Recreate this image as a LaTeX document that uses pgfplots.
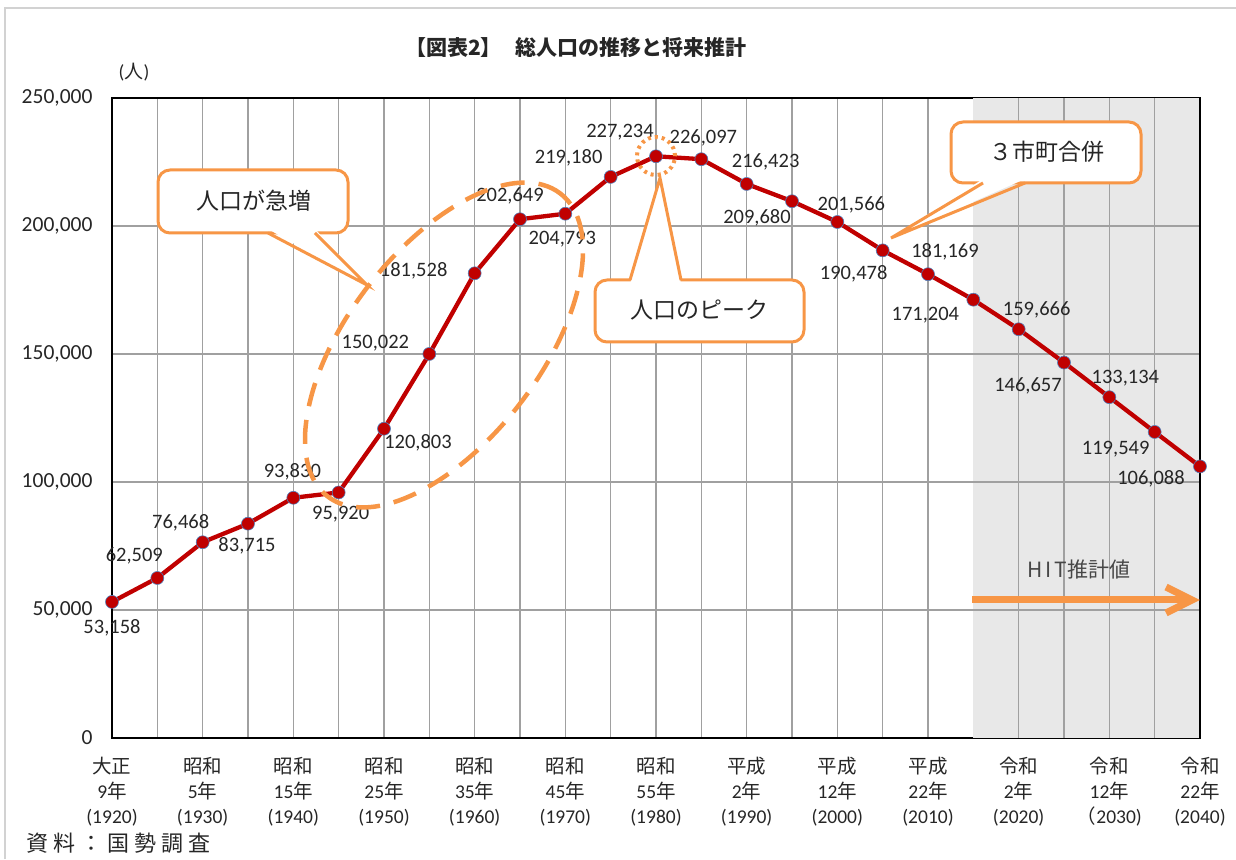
\documentclass[border=0pt]{standalone}
\usepackage{pgfplots}
\pgfplotsset{compat=1.18}
\usepackage{fontspec}
\setmainfont{Carlito}
\newfontfamily\jp{Noto Sans CJK JP}
\definecolor{dred}{RGB}{192,0,0}
\definecolor{org}{RGB}{247,150,70}
\definecolor{mblue}{RGB}{79,129,189}
\definecolor{shade}{RGB}{232,232,232}
\definecolor{gridc}{RGB}{160,160,160}
\definecolor{txt}{RGB}{38,38,38}
\definecolor{frame}{RGB}{210,210,210}
\newcommand{\tl}[3]{{\jp #1}\\#2{\jp 年}\\#3}
\newcommand{\dl}[5]{\node[font=\fontsize{20.5}{22}\selectfont, text=txt, xshift=#3pt, yshift=#4pt] at (axis cs:#1,#2) {#5};}
\begin{document}
\begin{tikzpicture}
\useasboundingbox (0,0) rectangle (1236pt,859pt);
\draw[frame, line width=2pt] (5pt,0pt) -- (5pt,851pt) -- (1236pt,851pt);
\begin{axis}[
  at={(112pt,121pt)}, anchor=south west,
  scale only axis, width=1088pt, height=640pt,
  xmin=1920, xmax=2040, ymin=0, ymax=250000,
  clip=false,
  xtick={1920,1930,...,2040},
  minor xtick={1925,1935,...,2035},
  ytick={0,50000,...,250000},
  grid=both,
  major grid style={draw=gridc, line width=1.4pt},
  minor grid style={draw=gridc, line width=1.4pt},
  axis line style={black, line width=1.8pt},
  major tick length=0pt, minor tick length=0pt,
  scaled y ticks=false,
  xticklabels={
    {\tl{大正}{9}{(1920)}},
    {\tl{昭和}{5}{(1930)}},
    {\tl{昭和}{15}{(1940)}},
    {\tl{昭和}{25}{(1950)}},
    {\tl{昭和}{35}{(1960)}},
    {\tl{昭和}{45}{(1970)}},
    {\tl{昭和}{55}{(1980)}},
    {\tl{平成}{2}{(1990)}},
    {\tl{平成}{12}{(2000)}},
    {\tl{平成}{22}{(2010)}},
    {\tl{令和}{2}{(2020)}},
    {\tl{令和}{12}{{\jp （}2030)}},
    {\tl{令和}{22}{(2040)}}},
  xticklabel style={align=center, font=\fontsize{19.5}{25}\selectfont, text=txt, yshift=-16pt},
  yticklabel style={font=\fontsize{21.5}{22}\selectfont, text=txt, xshift=-16pt,
    /pgf/number format/fixed, /pgf/number format/precision=0,
    /pgf/number format/1000 sep={,},
    /pgf/number format/assume math mode=true},
]
\addplot[draw=none, fill=shade, forget plot] coordinates {(2015,0) (2015,250000) (2040,250000) (2040,0)} -- cycle;
% grid lines redrawn over the shaded projection area
\addplot[gridc, line width=1.4pt, forget plot] coordinates {(2020,0) (2020,250000)};
\addplot[gridc, line width=1.4pt, forget plot] coordinates {(2025,0) (2025,250000)};
\addplot[gridc, line width=1.4pt, forget plot] coordinates {(2030,0) (2030,250000)};
\addplot[gridc, line width=1.4pt, forget plot] coordinates {(2035,0) (2035,250000)};
\addplot[gridc, line width=1.4pt, forget plot] coordinates {(2015,50000) (2040,50000)};
\addplot[gridc, line width=1.4pt, forget plot] coordinates {(2015,100000) (2040,100000)};
\addplot[gridc, line width=1.4pt, forget plot] coordinates {(2015,150000) (2040,150000)};
\addplot[gridc, line width=1.4pt, forget plot] coordinates {(2015,200000) (2040,200000)};
\addplot[black, line width=1.8pt, forget plot] coordinates {(2040,0) (2040,250000)};
\addplot[color=dred, line width=4.3pt, mark=*, mark size=6.5pt,
  mark options={fill=dred, draw=mblue, line width=0.6pt}] coordinates {
(1920,53158) (1925,62509) (1930,76468) (1935,83715) (1940,93830)
(1945,95920) (1950,120803) (1955,150022) (1960,181528) (1965,202649)
(1970,204793) (1975,219180) (1980,227234) (1985,226097) (1990,216423)
(1995,209680) (2000,201566) (2005,190478) (2010,181169) (2015,171204)
(2020,159666) (2025,146657) (2030,133134) (2035,119549) (2040,106088)};
\dl{1920}{53158}{0}{-26}{53,158}
\dl{1925}{62509}{-23}{22}{62,509}
\dl{1930}{76468}{-22}{19}{76,468}
\dl{1935}{83715}{-1}{-22}{83,715}
\dl{1940}{93830}{-1}{26}{93,830}
\dl{1945}{95920}{2}{-22}{95,920}
\dl{1950}{120803}{34}{-14}{120,803}
\dl{1955}{150022}{-54}{11}{150,022}
\dl{1960}{181528}{-61}{2}{181,528}
\dl{1965}{202649}{-10}{23}{202,649}
\dl{1970}{204793}{-3}{-25}{204,793}
\dl{1975}{219180}{-42}{19}{219,180}
\dl{1980}{227234}{-36}{24}{227,234}
\dl{1985}{226097}{2}{21}{226,097}
\dl{1990}{216423}{19}{22}{216,423}
\dl{1995}{209680}{-35}{-17}{209,680}
\dl{2000}{201566}{14}{17}{201,566}
\dl{2005}{190478}{-29}{-23}{190,478}
\dl{2010}{181169}{17}{22}{181,169}
\dl{2015}{171204}{-48}{-15}{171,204}
\dl{2020}{159666}{18}{19}{159,666}
\dl{2025}{146657}{-36}{-23}{146,657}
\dl{2030}{133134}{16}{19}{133,134}
\dl{2035}{119549}{-39}{-17}{119,549}
\dl{2040}{106088}{-49}{-12}{106,088}
\end{axis}
% title and texts
\node[font=\jp\bfseries\fontsize{21}{22}\selectfont, text=txt] at (576pt,811pt) {【図表2】\hspace{14pt}総人口の推移と将来推計};
\node[font=\fontsize{19}{22}\selectfont, text=txt] at (134pt,787pt) {({\jp 人})};
\node[font=\jp\fontsize{22}{24}\selectfont, text=txt, anchor=west, inner sep=0pt] at (26pt,16pt) {資\hspace{5pt}料\hspace{5pt}：\hspace{5pt}国\hspace{5pt}勢\hspace{5pt}調\hspace{5pt}査};
% dashed ellipse
\draw[org, line width=4.5pt, dash pattern=on 24pt off 14pt, rotate around={52.5:(444pt,514pt)}] (444pt,514pt) ellipse (191pt and 96pt);
% dotted circle at peak
\draw[org, line width=4pt, dash pattern=on 3pt off 4pt] (656pt,703pt) circle (19pt);
% callout 1
\draw[org, line width=3pt, fill=white, rounded corners=12pt] (158pt,626pt) rectangle (348pt,689pt);
\fill[white] (268pt,630pt) -- (367pt,574pt) -- (315pt,630pt) -- cycle;
\draw[org, line width=3pt, line join=miter] (268pt,626pt) -- (367pt,574pt) -- (315pt,626pt);
\node[font=\jp\fontsize{23}{24}\selectfont, text=txt] at (254pt,658pt) {人口が急増};
% callout 2
\draw[org, line width=3pt, fill=white, rounded corners=12pt] (595pt,517pt) rectangle (804pt,579pt);
\fill[white] (630pt,575pt) -- (660pt,681pt) -- (681pt,575pt) -- cycle;
\draw[org, line width=3pt, line join=miter] (630pt,579pt) -- (660pt,681pt) -- (681pt,579pt);
\node[font=\jp\fontsize{23}{24}\selectfont, text=txt] at (699pt,549pt) {人口のピーク};
% callout 3
\draw[org, line width=3pt, fill=white, rounded corners=12pt] (951pt,676pt) rectangle (1141pt,737pt);
\fill[white] (983pt,680pt) -- (891pt,621pt) -- (1025pt,680pt) -- cycle;
\draw[org, line width=3pt, line join=miter] (983pt,676pt) -- (891pt,621pt) -- (1025pt,676pt);
\node[font=\jp\fontsize{23}{24}\selectfont, text=txt] at (1047pt,707pt) {３市町合併};
% HIT arrow
\node[font=\jp\fontsize{21}{22}\selectfont, text=txt!85] at (1079pt,289pt) {H\hspace{3pt}I\hspace{3pt}T推計値};
\draw[org, line width=7pt] (972pt,259pt) -- (1188pt,259pt);
\draw[org, line width=7pt, line join=miter] (1166pt,272pt) -- (1192pt,259pt) -- (1166pt,246pt);
\end{tikzpicture}
\end{document}
